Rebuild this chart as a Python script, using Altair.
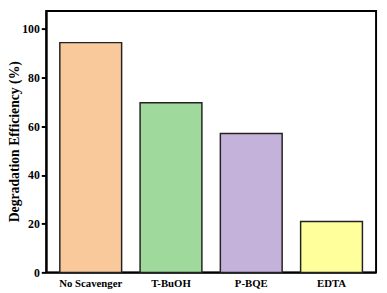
import altair as alt
import pandas as pd

categories = ["No Scavenger", "T-BuOH", "P-BQE", "EDTA"]
values = [94.4, 69.7, 57.1, 20.9]
colors = ["#F9C99B", "#9FD99B", "#C4B2DA", "#FFFF9C"]

df = pd.DataFrame({"cat": categories, "val": values})

chart = alt.Chart(df).mark_bar(stroke="#222222", strokeWidth=1.5).encode(
    x=alt.X("cat:N", sort=categories,
            scale=alt.Scale(paddingInner=0.23, paddingOuter=0.17),
            axis=alt.Axis(title=None, labelAngle=0, ticks=False, labelFont="Liberation Serif",
                          labelFontWeight="bold", labelFontSize=11, labelColor="black",
                          domainColor="black", domainWidth=2, labelPadding=5)),
    y=alt.Y("val:Q", scale=alt.Scale(domain=[0, 107.4], nice=False),
            axis=alt.Axis(title="Degradation Efficiency (%)", values=[0, 20, 40, 60, 80, 100],
                          grid=False, tickSize=5, tickWidth=2, tickColor="black",
                          domainColor="black", domainWidth=2, labelPadding=2,
                          labelFont="Liberation Serif", labelFontWeight="bold", labelFontSize=12,
                          labelColor="black", titleFont="Liberation Serif", titleFontWeight="bold",
                          titleFontSize=14, titleColor="black", titleX=-25, titleY=133)),
    color=alt.Color("cat:N", sort=categories, scale=alt.Scale(domain=categories, range=colors), legend=None),
).properties(
    width=337, height=267,
    autosize=alt.AutoSizeParams(type="none"),
    padding={"left": 39, "top": 0, "right": 3, "bottom": 17},
).configure_view(stroke="black", strokeWidth=2)

chart.save("out.html", embed_options={"renderer": "svg", "actions": False})
